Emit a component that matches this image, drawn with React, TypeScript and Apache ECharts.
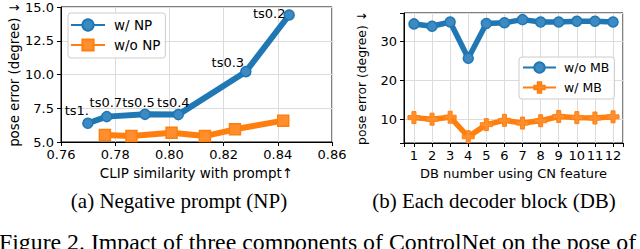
import React, { useEffect, useRef } from "react";
import * as echarts from "echarts";

// ---- (a) Negative prompt ----
const npClip = [0.7699, 0.7769, 0.791, 0.8033, 0.8282, 0.8442];
const npErr = [6.39, 6.88, 7.05, 7.03, 10.21, 14.41];
const tsLabels = ["ts1.", "ts0.7", "ts0.5", "ts0.4", "ts0.3", "ts0.2"];
const noNpClip = [0.7762, 0.786, 0.8008, 0.8131, 0.8242, 0.842];
const noNpErr = [5.52, 5.44, 5.69, 5.44, 5.94, 6.58];

// ---- (b) Each decoder block ----
const dbNumbers = [1, 2, 3, 4, 5, 6, 7, 8, 9, 10, 11, 12];
const woMB = [34.4, 33.8, 34.9, 25.6, 34.5, 34.7, 35.5, 34.9, 34.9, 35.1, 35.1, 34.9];
const wMB = [10.4, 10.0, 10.5, 5.5, 8.6, 9.7, 9.0, 9.6, 10.7, 10.4, 10.3, 10.6];

// label offsets for the ts annotations (relative to the point)
const tsOffsets = [[-11, -13], [-1, -14], [-6.5, -12], [-5, -12], [-18, -9], [-20, -1]];

const BLUE = "#1f77b4";
const ORANGE = "#ff7f0e";
const FONT = "DejaVu Sans";
const SERIF = "Liberation Serif";
const PLUS = "path://M2,0H4V2H6V4H4V6H2V4H0V2H2Z";

export default function App() {
  const ref = useRef<HTMLDivElement>(null);
  useEffect(() => {
    if (!ref.current) return;
    const chart = echarts.init(ref.current, undefined, { renderer: "svg" });
    const axisBase = {
      axisLine: { show: true, lineStyle: { color: "#000", width: 1 } },
      axisTick: { show: true, inside: false, length: 4, lineStyle: { color: "#000" } },
      splitLine: { show: true, lineStyle: { color: "#dcdcdc", width: 1 } },
    };
    chart.setOption({
      animation: false,
      textStyle: { fontFamily: FONT },
      grid: [
        { left: 61, right: 308, top: 7, bottom: 107, show: true, borderColor: "#000", borderWidth: 1, backgroundColor: "transparent" },
        { left: 404, right: 17, top: 13, bottom: 106, show: true, borderColor: "#000", borderWidth: 1, backgroundColor: "transparent" },
      ],
      xAxis: [
        {
          ...axisBase,
          type: "value", gridIndex: 0, min: 0.76, max: 0.86, interval: 0.02,
          axisLabel: { color: "#000", fontSize: 13, fontFamily: FONT, margin: 6, formatter: (v: number) => v.toFixed(2) },
          name: "CLIP similarity with prompt\u2191", nameLocation: "middle", nameGap: 21,
          nameTextStyle: { color: "#000", fontSize: 13.5, fontFamily: FONT },
        },
        {
          ...axisBase,
          type: "value", gridIndex: 1, min: 0.45, max: 12.55, splitNumber: 12,
          axisLabel: {
            color: "#000", fontSize: 13, fontFamily: FONT, margin: 6,
            formatter: (v: number) => (Math.abs(v - Math.round(v)) < 1e-6 ? String(Math.round(v)) : ""),
          },
          name: "DB number using CN feature", nameLocation: "middle", nameGap: 20,
          nameTextStyle: { color: "#000", fontSize: 13, fontFamily: FONT },
        },
      ],
      yAxis: [
        {
          ...axisBase,
          type: "value", gridIndex: 0, min: 5, max: 15, interval: 2.5,
          axisLabel: { color: "#000", fontSize: 13, fontFamily: FONT, margin: 7, formatter: (v: number) => v.toFixed(1) },
          name: "pose error (degree) \u2193", nameLocation: "middle", nameGap: 37,
          nameTextStyle: { color: "#000", fontSize: 13.3, fontFamily: FONT },
        },
        {
          ...axisBase,
          type: "value", gridIndex: 1, min: 3.9, max: 37.2, splitNumber: 3,
          axisLabel: {
            color: "#000", fontSize: 13, fontFamily: FONT, margin: 7,
            formatter: (v: number) => (Math.abs(v % 10) < 1e-6 ? String(v) : ""),
          },
          name: "pose error (degree) \u2193", nameLocation: "middle", nameGap: 36,
          nameTextStyle: { color: "#000", fontSize: 12.3, fontFamily: FONT },
        },
      ],
      legend: [
        {
          data: ["w/ NP", "w/o NP"], orient: "vertical", left: 68, top: 13,
          itemWidth: 34, itemHeight: 14, itemGap: 6, padding: [5, 5, 6, 2],
          borderColor: "#cccccc", borderWidth: 1, borderRadius: 3,
          backgroundColor: "rgba(255,255,255,0.85)",
          textStyle: { color: "#000", fontSize: 13.5, fontFamily: FONT, padding: [0, 0, 0, 4] },
        },
        {
          data: ["w/o MB", "w/ MB"], orient: "vertical", left: 519, top: 57,
          itemWidth: 33, itemHeight: 13, itemGap: 7, padding: [4, 5, 5, 3],
          borderColor: "#cccccc", borderWidth: 1, borderRadius: 3,
          backgroundColor: "rgba(255,255,255,0.85)",
          textStyle: { color: "#000", fontSize: 12.5, fontFamily: FONT, padding: [0, 0, 0, 3] },
        },
      ],
      series: [
        {
          name: "w/ NP", type: "line", xAxisIndex: 0, yAxisIndex: 0,
          data: npClip.map((x, i) => ({
            value: [x, npErr[i]],
            label: { show: true, position: "inside", offset: tsOffsets[i] },
          })),
          symbol: "circle", symbolSize: 10,
          lineStyle: { color: BLUE, width: 6 },
          itemStyle: { color: "#3d8ac2", borderColor: BLUE, borderWidth: 1.5 },
          label: {
            show: true, color: "#000", fontSize: 13, fontFamily: FONT,
            formatter: (p: any) => tsLabels[p.dataIndex],
          },
          z: 3,
        },
        {
          name: "w/o NP", type: "line", xAxisIndex: 0, yAxisIndex: 0,
          data: noNpClip.map((x, i) => [x, noNpErr[i]]),
          symbol: "rect", symbolSize: 11,
          lineStyle: { color: ORANGE, width: 6 },
          itemStyle: { color: "#ff8f2e", borderColor: ORANGE, borderWidth: 1.5 },
          z: 2,
        },
        {
          name: "w/o MB", type: "line", xAxisIndex: 1, yAxisIndex: 1,
          data: dbNumbers.map((x, i) => [x, woMB[i]]),
          symbol: "circle", symbolSize: 10,
          lineStyle: { color: BLUE, width: 5.5 },
          itemStyle: { color: "#3d8ac2", borderColor: BLUE, borderWidth: 1.5 },
          z: 3,
        },
        {
          name: "w/ MB", type: "line", xAxisIndex: 1, yAxisIndex: 1,
          data: dbNumbers.map((x, i) => [x, wMB[i]]),
          symbol: PLUS, symbolSize: 12,
          lineStyle: { color: ORANGE, width: 5.5 },
          itemStyle: { color: "#ff8f2e", borderColor: ORANGE, borderWidth: 1 },
          z: 2,
        },
      ],
      graphic: [
        {
          type: "text", x: 179, y: 201,
          style: { text: "(a) Negative prompt (NP)", font: `21px '${SERIF}'`, fill: "#000", textAlign: "center", textVerticalAlign: "middle" },
        },
        {
          type: "text", x: 494, y: 201,
          style: { text: "(b) Each decoder block (DB)", font: `21px '${SERIF}'`, fill: "#000", textAlign: "center", textVerticalAlign: "middle" },
        },
        {
          type: "text", x: -1, y: 230,
          style: { text: "Figure 2. Impact of three components of ControlNet on the pose of", font: `23.8px '${SERIF}'`, fill: "#000", textAlign: "left", textVerticalAlign: "top" },
        },
      ],
    });
    return () => chart.dispose();
  }, []);
  return <div ref={ref} style={{ position: "fixed", left: 0, top: 0, width: 640, height: 249, background: "#fff" }} />;
}
